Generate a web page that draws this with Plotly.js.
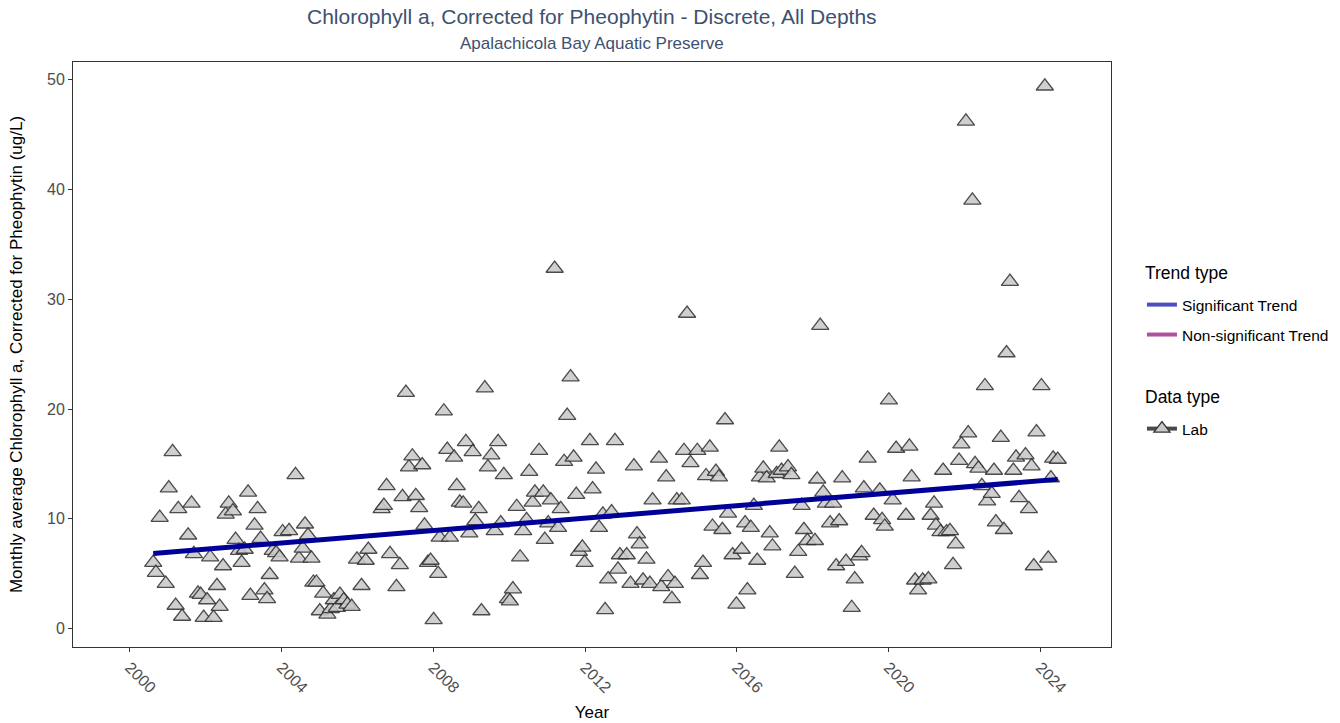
<!DOCTYPE html>
<html>
<head>
<meta charset="utf-8">
<script src="https://cdn.plot.ly/plotly-3.0.1.min.js"></script>
<style>html,body{margin:0;padding:0;background:#fff;}#chart{width:1340px;height:723px;}</style>
</head>
<body>
<div id="chart"></div>
<script>
// Decimal year of each monthly sample
const years = [
2000.62,2000.69,2000.79,2000.95,2001.03,2001.13,2001.21,2001.28,2001.38,2001.54,
2001.63,2001.69,2001.80,2001.87,2001.95,2002.04,2002.12,2002.21,2002.30,2002.37,
2002.46,2002.53,2002.61,2002.72,2002.79,2002.88,2002.95,2003.03,2003.12,2003.18,
2003.29,2003.37,2003.45,2003.55,2003.62,2003.69,2003.77,2003.86,2003.95,2004.03,
2004.20,2004.37,2004.46,2004.56,2004.62,2004.70,2004.79,2004.84,2004.92,2005.01,
2005.10,2005.21,2005.30,2005.38,2005.46,2005.54,2005.64,2005.74,2005.85,2005.99,
2006.11,2006.22,2006.29,2006.64,2006.70,2006.77,2006.86,2007.03,2007.12,2007.19,
2007.28,2007.36,2007.45,2007.54,2007.63,2007.71,2007.77,2007.86,2007.93,2008.01,
2008.13,2008.17,2008.28,2008.37,2008.44,2008.55,2008.62,2008.70,2008.79,2008.86,
2008.95,2009.04,2009.11,2009.20,2009.27,2009.36,2009.44,2009.53,2009.62,2009.71,
2009.78,2009.86,2009.97,2010.02,2010.10,2010.20,2010.29,2010.37,2010.46,2010.53,
2010.62,2010.68,2010.79,2010.90,2010.94,2011.03,2011.10,2011.20,2011.29,2011.36,
2011.45,2011.53,2011.62,2011.70,2011.77,2011.84,2011.93,2011.99,2012.13,2012.20,
2012.29,2012.37,2012.47,2012.53,2012.61,2012.70,2012.79,2012.87,2012.92,2013.10,
2013.20,2013.29,2013.37,2013.44,2013.53,2013.62,2013.71,2013.78,2013.95,2014.01,
2014.14,2014.19,2014.29,2014.37,2014.42,2014.55,2014.61,2014.69,2014.78,2014.96,
2015.03,2015.11,2015.19,2015.29,2015.36,2015.45,2015.53,2015.62,2015.69,2015.77,
2015.89,2015.99,2016.13,2016.22,2016.28,2016.37,2016.45,2016.54,2016.61,2016.70,
2016.79,2016.87,2016.94,2017.05,2017.12,2017.18,2017.35,2017.44,2017.53,2017.62,
2017.71,2017.77,2017.86,2018.06,2018.12,2018.20,2018.28,2018.35,2018.46,2018.54,
2018.62,2018.70,2018.78,2018.88,2019.03,2019.11,2019.23,2019.29,2019.35,2019.45,
2019.61,2019.77,2019.83,2019.90,2020.01,2020.11,2020.20,2020.46,2020.55,2020.61,
2020.70,2020.78,2020.90,2021.05,2021.11,2021.20,2021.25,2021.37,2021.44,2021.53,
2021.62,2021.70,2021.77,2021.86,2021.92,2022.04,2022.10,2022.21,2022.28,2022.37,
2022.46,2022.54,2022.60,2022.72,2022.78,2022.83,2022.96,2023.04,2023.11,2023.20,
2023.29,2023.36,2023.44,2023.61,2023.70,2023.77,2023.83,2023.90,2024.03,2024.12,
2024.21,2024.28,2024.34,2024.46
];
// Monthly average Chlorophyll a (ug/L)
const chla = [
6.0,5.1,10.1,4.1,12.8,16.1,2.1,10.9,1.1,8.5,
11.4,6.8,3.2,3.1,1.0,2.6,6.5,1.0,3.9,2.0,
5.7,10.4,11.4,10.7,8.1,7.1,6.0,7.2,12.4,3.0,
9.4,10.9,8.2,3.5,2.7,4.9,7.1,6.9,6.5,8.8,
8.9,14.0,6.4,7.3,9.5,8.5,6.4,4.2,4.2,1.6,
3.2,1.3,1.8,2.6,1.9,3.1,2.6,2.2,2.0,6.3,
3.9,6.2,7.2,10.9,11.2,13.0,6.8,3.8,5.8,12.0,
21.5,14.7,15.7,12.1,11.0,14.9,9.4,6.0,6.2,0.8,
5.0,8.3,19.8,16.3,8.3,15.6,13.0,11.5,11.4,17.0,
8.7,16.1,9.8,10.9,1.6,21.9,14.7,15.8,8.9,17.0,
9.6,14.0,2.7,2.5,3.6,11.1,6.5,8.9,9.9,14.3,
11.5,12.4,16.2,12.4,8.1,9.6,11.7,32.8,9.2,10.9,
15.2,19.4,22.9,15.6,12.2,7.0,7.4,6.0,17.1,12.7,
14.5,9.2,10.4,1.7,4.5,10.6,17.1,5.4,6.7,6.7,
4.1,14.8,8.6,7.7,4.4,6.3,4.1,11.7,15.5,3.8,
13.8,4.7,2.7,4.1,11.7,11.7,16.2,28.7,15.1,16.2,
4.9,6.0,13.9,16.5,9.3,14.3,13.8,9.0,19.0,10.5,
6.7,2.2,7.2,9.6,3.5,9.2,11.2,6.2,13.8,14.6,
13.7,8.7,7.5,14.1,16.5,14.4,14.7,14.0,5.0,7.0,
11.2,9.0,8.0,8.0,13.6,27.6,12.4,11.4,9.6,11.4,
5.7,9.8,13.7,6.1,1.9,4.5,6.6,6.9,12.8,15.5,
10.3,12.6,9.9,9.3,20.8,11.7,16.4,10.3,16.6,13.8,
4.4,3.5,4.4,4.5,10.3,11.4,9.4,8.8,14.4,8.8,
8.9,5.8,7.7,15.3,16.8,46.2,17.8,39.0,15.0,14.6,
13.0,22.1,11.6,12.3,14.4,9.7,17.4,9.0,25.1,31.6,
14.4,15.6,11.9,15.8,10.9,14.8,5.7,17.9,22.1,49.4,
6.4,13.7,15.5,15.4
];
// Significant trend line end points
const trendYears = [2000.62, 2024.46];
const trendValues = [6.84, 13.59];
// Axis ticks
const xTicks = [2000, 2004, 2008, 2012, 2016, 2020, 2024];
const yTicks = [0, 10, 20, 30, 40, 50];

const FONT = 'Liberation Sans, Arial, Helvetica, sans-serif';

const traces = [
  {
    x: years, y: chla, type: 'scatter', mode: 'markers', showlegend: false,
    hovertemplate: '%{x:.2f}: %{y} ug/L<extra></extra>',
    marker: { symbol: 'triangle-up', size: 15, color: '#c9c9c9', opacity: 0.88,
              line: { color: '#333333', width: 1.3 } }
  },
  {
    x: trendYears, y: trendValues, type: 'scatter', mode: 'lines', showlegend: false,
    line: { color: '#000099', width: 5 }, hoverinfo: 'skip'
  },
  {
    x: [null], y: [null], type: 'scatter', mode: 'lines', name: 'Significant Trend',
    legend: 'legend', line: { color: '#4d4dc2', width: 4 }
  },
  {
    x: [null], y: [null], type: 'scatter', mode: 'lines', name: 'Non-significant Trend',
    legend: 'legend2', line: { color: '#b24f9e', width: 4 }
  },
  {
    x: [null], y: [null], type: 'scatter', mode: 'lines+markers', name: 'Lab',
    legend: 'legend3', line: { color: '#4a4a4a', width: 4 },
    marker: { symbol: 'triangle-up', size: 14, color: '#c9c9c9', line: { color: '#333', width: 1.3 } }
  }
];

function legendAt(yCont) {
  return { xref: 'container', yref: 'container', x: 0.8522, y: yCont,
           xanchor: 'left', yanchor: 'middle',
           font: { size: 15.5, color: '#000', family: FONT }, bgcolor: 'rgba(0,0,0,0)' };
}

const layout = {
  width: 1340, height: 723,
  margin: { l: 73, r: 229, t: 62, b: 76, autoexpand: false },
  paper_bgcolor: '#ffffff', plot_bgcolor: '#ffffff',
  font: { family: FONT, size: 14, color: '#000' },
  showlegend: true,
  legend: legendAt(0.5781),
  legend2: legendAt(0.5367),
  legend3: legendAt(0.4066),
  xaxis: {
    range: [1998.505, 2025.864], tickvals: xTicks, ticktext: xTicks.map(String),
    tickangle: 45, ticks: 'outside', ticklen: 4, tickwidth: 1, tickcolor: '#333',
    tickfont: { size: 16, color: '#4d4d4d', family: FONT },
    showline: true, mirror: true, linecolor: '#333', linewidth: 1,
    showgrid: false, zeroline: false,
    title: { text: 'Year', font: { size: 17, color: '#000', family: FONT }, standoff: 10 }
  },
  yaxis: {
    range: [-1.68, 51.61], tickvals: yTicks,
    ticks: 'outside', ticklen: 4, tickwidth: 1, tickcolor: '#333',
    tickfont: { size: 16, color: '#4d4d4d', family: FONT },
    showline: true, mirror: true, linecolor: '#333', linewidth: 1,
    showgrid: false, zeroline: false,
    title: { text: 'Monthly average Chlorophyll a, Corrected for Pheophytin (ug/L)',
             font: { size: 17, color: '#000', family: FONT }, standoff: 20 }
  },
  annotations: [
    { text: 'Chlorophyll a, Corrected for Pheophytin - Discrete, All Depths',
      xref: 'paper', yref: 'paper', x: 0.5, y: 1.077, xanchor: 'center', yanchor: 'middle',
      showarrow: false, font: { size: 21, color: '#3d5170', family: FONT } },
    { text: 'Apalachicola Bay Aquatic Preserve',
      xref: 'paper', yref: 'paper', x: 0.5, y: 1.031, xanchor: 'center', yanchor: 'middle',
      showarrow: false, font: { size: 17, color: '#3d5170', family: FONT } },
    { text: 'Trend type', xref: 'paper', yref: 'paper', x: 1.0308, y: 0.6393,
      xanchor: 'left', yanchor: 'middle', showarrow: false,
      font: { size: 17.5, color: '#000', family: FONT } },
    { text: 'Data type', xref: 'paper', yref: 'paper', x: 1.0308, y: 0.4274,
      xanchor: 'left', yanchor: 'middle', showarrow: false,
      font: { size: 17.5, color: '#000', family: FONT } }
  ]
};

Plotly.newPlot('chart', traces, layout, { displayModeBar: false, staticPlot: true });
</script>
</body>
</html>
